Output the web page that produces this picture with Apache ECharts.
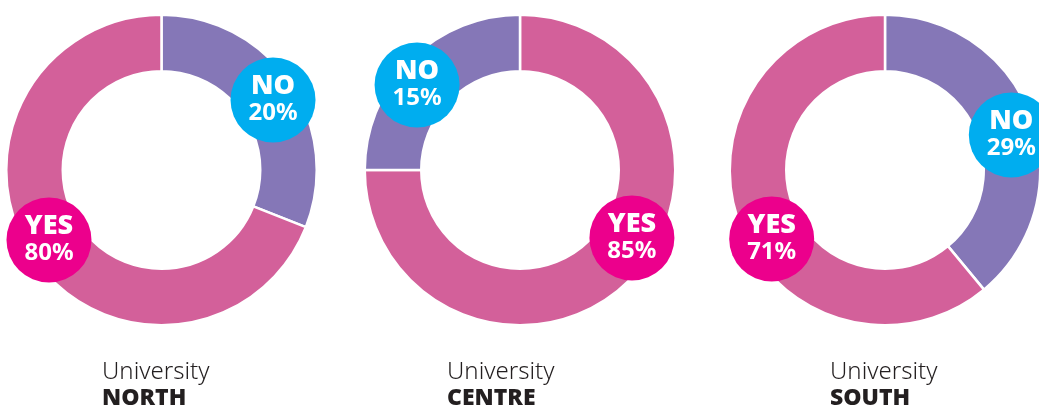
<!DOCTYPE html>
<html>
<head>
<meta charset="utf-8">
<script src="https://cdn.jsdelivr.net/npm/echarts@6/dist/echarts.min.js"></script>
<style>
html,body{margin:0;padding:0;background:#fff;}
#chart{width:1039px;height:405px;}
</style>
</head>
<body>
<div id="chart"></div>
<script>
// ---- data ----
const universities = ['NORTH', 'CENTRE', 'SOUTH'];
// share of the ring drawn for each answer (as drawn in the picture, %)
const noArc  = [31, 25, 39];
const yesArc = [69, 75, 61];
// percentages printed in the badges
const noLabel  = [20, 15, 29];
const yesLabel = [80, 85, 71];

// ---- layout / style ----
const centers = [[161.5, 170], [520, 170], [885, 170]];
const noFirst = [true, false, true];        // clockwise order from 12 o'clock
const titleLeft = [102, 447, 830];
const badgeNudge = [                          // small offsets of the badges from slice mid-angle
  {NO: [4, 3],   YES: [-5, -3]},
  {NO: [-11, 7], YES: [20, -24]},
  {NO: [4, 9],   YES: [9, 25]}
];
const PURPLE = '#8577b7', PINK = '#d3609a', CYAN = '#00adef', MAGENTA = '#ec008c';
const FONT = '"Noto Sans", "Open Sans", sans-serif';

function badge(bg) {
  return {
    show: true,
    position: 'inside',
    backgroundColor: bg,
    width: 85,
    padding: [15, 0, 16, 0],
    borderRadius: 42.5,
    align: 'center',
    rich: {
      t: {color: '#fff', fontFamily: FONT, fontWeight: 900, fontSize: 27, lineHeight: 27, align: 'center'},
      p: {color: '#fff', fontFamily: FONT, fontWeight: 700, fontSize: 24, lineHeight: 27, align: 'center'}
    }
  };
}

const series = universities.map((u, i) => {
  const no = {name: 'NO', value: noArc[i], itemStyle: {color: PURPLE},
              label: Object.assign(badge(CYAN), {formatter: '{t|NO}\n{p|' + noLabel[i] + '%}'})};
  const yes = {name: 'YES', value: yesArc[i], itemStyle: {color: PINK},
               label: Object.assign(badge(MAGENTA), {formatter: '{t|YES}\n{p|' + yesLabel[i] + '%}'})};
  const data = noFirst[i] ? [no, yes] : [yes, no];
  return {
    type: 'pie',
    center: centers[i],
    radius: [98.75, 155.25],
    startAngle: 90,
    clockwise: true,
    avoidLabelOverlap: false,
    silent: true,
    animation: false,
    minAngle: 0,
    itemStyle: {borderColor: '#fff', borderWidth: 2.5},
    labelLine: {show: false},
    emphasis: {disabled: true},
    labelLayout: function (p) {
      const name = data[p.dataIndex].name;
      const n = badgeNudge[i][name] || [0, 0];
      return {dx: n[0], dy: n[1]};
    },
    data: data
  };
});

const titles = universities.map((u, i) => ({
  left: titleLeft[i],
  top: 359,
  text: '{a|University}\n{b|' + u + '}',
  textStyle: {
    rich: {
      a: {fontFamily: FONT, fontWeight: 300, fontSize: 24, lineHeight: 27, color: '#231f20'},
      b: {fontFamily: FONT, fontWeight: 900, fontSize: 23, lineHeight: 24, color: '#231f20'}
    }
  },
  padding: 0
}));

const chart = echarts.init(document.getElementById('chart'), null, {renderer: 'canvas'});
chart.setOption({
  backgroundColor: '#fff',
  animation: false,
  title: titles,
  series: series
});
</script>
</body>
</html>
